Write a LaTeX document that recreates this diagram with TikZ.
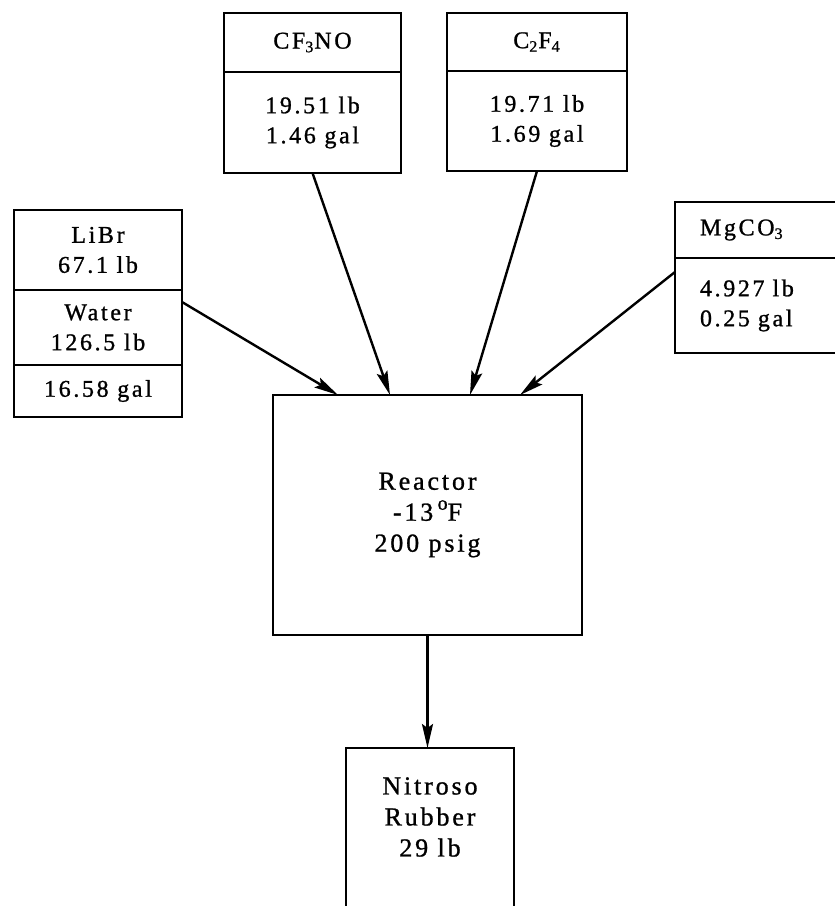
\documentclass[tikz,border=0pt]{standalone}
\usepackage{fontspec}
\setmainfont[LetterSpace=11, FakeBold=1]{Liberation Serif}
\usetikzlibrary{positioning, arrows.meta}

\begin{document}
\begin{tikzpicture}[x=0.5pt, y=-0.5pt,
        box/.style={draw, line width=1.3pt, outer sep=0pt, inner sep=2pt, align=center,
            font=\fontsize{12}{15}\selectfont},
        big/.style={align=center, font=\fontsize{13}{15.5}\selectfont},
        arr/.style={-{Stealth[length=12pt, width=5.5pt, inset=2pt]}, line width=1.2pt}]
    \useasboundingbox (0,0) rectangle (835,906);

    % CF3NO feed
    \node[box, minimum width=88.5pt, minimum height=29.5pt] (cfno) at (312.5,42.5) {CF\textsubscript{3}NO};
    \node[box, minimum width=88.5pt, minimum height=50.5pt, below=0pt of cfno] (cfnoq) {19.51 lb\\1.46 gal};

    % C2F4 feed
    \node[box, minimum width=90pt, minimum height=29pt] (tfe) at (537,42) {C\textsubscript{2}F\textsubscript{4}};
    \node[box, minimum width=90pt, minimum height=50pt, below=0pt of tfe] (tfeq) {19.71 lb\\1.69 gal};

    % LiBr solution
    \node[box, minimum width=84pt, minimum height=40pt] (libr) at (98,250) {LiBr\\67.1 lb};
    \node[box, minimum width=84pt, minimum height=37.5pt, below=0pt of libr] (water) {Water\\126.5 lb};
    \node[box, minimum width=84pt, minimum height=26pt, below=0pt of water] (libvol) {16.58 gal};

    % MgCO3 (runs off the page)
    \node[box, align=left, text width=62.5pt, inner xsep=12.5pt, minimum height=28pt, anchor=west] (mgco) at (675,230) {MgCO\textsubscript{3}};
    \node[box, align=left, text width=62.5pt, inner xsep=12.5pt, minimum height=47.5pt, below=0pt of mgco] (mgcoq) {4.927 lb\\0.25 gal};

    % Reactor and product
    \node[box, big, minimum width=154.5pt, minimum height=120pt] (reactor) at (427.5,515) {Reactor\\-13\,\raisebox{5.5pt}{\fontsize{10}{10}\selectfont o}F\\200 psig};
    \node[box, minimum width=84pt, minimum height=91pt, anchor=north] (rubber) at (430,748) {};
    \node[big] (rubbertext) at (430,817) {Nitroso\\Rubber\\29 lb};

    \draw[arr] ([yshift=-6pt]water.north east) -- ([xshift=32.5pt]reactor.north west);
    \draw[arr] (cfnoq.south) -- ([xshift=58.5pt]reactor.north west);
    \draw[arr] (tfeq.south) -- ([xshift=98.5pt]reactor.north west);
    \draw[arr] ([yshift=-7pt]mgcoq.north west) -- ([xshift=123.5pt]reactor.north west);
    \draw[arr] (reactor.south) -- (reactor.south |- rubber.north);
\end{tikzpicture}
\end{document}
